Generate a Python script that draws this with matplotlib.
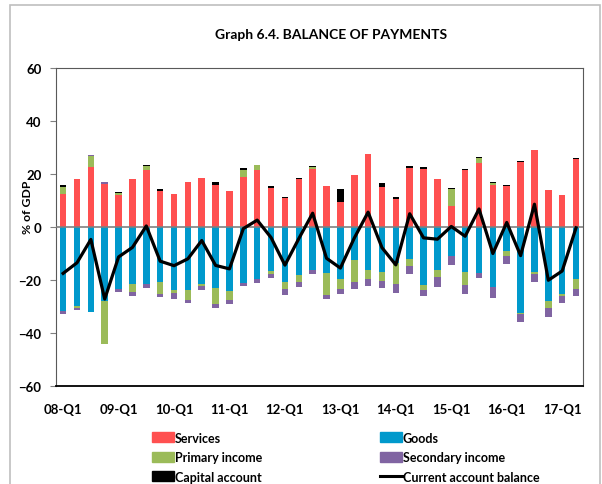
import numpy as np
import matplotlib
matplotlib.use('Agg')
import matplotlib.pyplot as plt
from matplotlib.patches import Patch, Rectangle
from matplotlib.lines import Line2D

plt.rcParams['font.family'] = ['Lato', 'DejaVu Sans']
plt.rcParams['font.weight'] = 'bold'

# quarters 08-Q1 .. 17-Q2
quarters = [f'{y:02d}-Q{q}' for y in range(8, 18) for q in range(1, 5)][:38]
tick_labels = ['08-Q1', '09-Q1', '10-Q1', '11-Q1', '12-Q1', '13-Q1', '14-Q1', '15-Q1', '16-Q1', '17-Q1']

services = [12.3, 18.0, 22.7, 16.3, 12.0, 18.2, 21.4, 13.4, 12.3, 16.8,
            18.4, 15.7, 13.4, 18.7, 21.6, 14.9, 11.0, 18.2, 21.8, 15.3,
            9.6, 19.7, 27.7, 15.2, 10.4, 22.4, 21.9, 18.0, 7.8, 21.6,
            24.1, 15.8, 15.6, 24.7, 29.1, 13.9, 12.0, 25.7]
goods = [-31.8, -29.9, -32.0, -27.8, -23.4, -21.4, -21.5, -20.9, -23.8, -23.7,
         -21.4, -23.2, -24.2, -21.1, -19.6, -16.6, -20.8, -18.2, -16.2, -17.5,
         -19.7, -12.4, -16.2, -17.0, -13.7, -12.0, -21.9, -16.3, -11.0, -16.8,
         -17.2, -22.5, -9.1, -32.4, -16.8, -28.1, -25.4, -19.7]
primary = [2.9, -0.6, 4.1, -16.2, 0.8, -3.0, 1.8, -4.2, -1.0, -3.9,
           -0.9, -6.0, -3.4, 2.7, 1.7, -1.0, -2.6, -2.4, 0.9, -8.1,
           -3.7, -8.4, -3.3, -3.5, -7.7, -2.6, -1.8, -2.7, 6.5, -5.1,
           2.0, 0.8, -1.8, -0.6, -1.0, -2.3, -0.8, -3.6]
secondary = [-1.0, -1.0, 0.5, 0.5, -1.0, -1.5, -1.5, -1.5, -2.2, -0.9,
             -1.4, -1.3, -1.5, -1.1, -1.4, -1.5, -2.2, -1.9, -1.5, -1.4,
             -1.9, -2.5, -2.7, -2.5, -3.4, -3.0, -2.4, -3.5, -3.2, -3.3,
             -2.2, -4.2, -3.2, -2.7, -2.8, -3.7, -2.5, -2.9]
capital = [0.5, 0.2, 0.0, 0.0, 0.5, 0.0, 0.2, 0.8, 0.0, 0.0,
           0.0, 1.1, 0.0, 0.8, 0.2, 0.5, 0.2, 0.2, 0.3, 0.0,
           4.7, 0.0, 0.0, 1.3, 0.9, 0.5, 0.9, 0.2, 0.3, 0.3,
           0.2, 0.2, 0.3, 0.2, 0.0, 0.0, 0.0, 0.2]
current_account = [-17.5, -13.5, -4.7, -27.2, -11.3, -7.7, 0.4, -12.9, -14.6, -12.0,
                   -5.1, -14.5, -15.8, -0.6, 2.6, -4.0, -14.4, -4.4, 5.2, -11.8,
                   -15.5, -4.2, 5.6, -7.8, -14.3, 5.0, -4.1, -4.6, 0.2, -3.5,
                   6.8, -10.0, 1.7, -10.8, 8.6, -20.1, -16.6, -0.3]

series = [('Services', services, '#FF5050'),
          ('Goods', goods, '#0099CC'),
          ('Primary income', primary, '#9BBB59'),
          ('Secondary income', secondary, '#8064A2'),
          ('Capital account', capital, '#000000')]

fig = plt.figure(figsize=(6.02, 4.85), dpi=100)
ax = fig.add_axes([0.0922, 0.2021, 0.8762, 0.6556])

x = np.arange(len(quarters))
pos_base = np.zeros(len(x))
neg_base = np.zeros(len(x))
for name, vals, col in series:
    v = np.array(vals)
    base = np.where(v >= 0, pos_base, neg_base)
    ax.bar(x, v, 0.47, bottom=base, color=col, linewidth=0, zorder=2)
    pos_base = pos_base + np.where(v >= 0, v, 0)
    neg_base = neg_base + np.where(v < 0, v, 0)

ax.axhline(0, color='#808080', lw=1.2, zorder=3)
ax.plot(x, current_account, color='black', lw=2.3, zorder=4)

ax.set_xlim(-0.55, 37.5)
ax.set_ylim(-60, 60)
ax.set_yticks(range(-60, 61, 20))
ax.set_xticks(x[::4])
ax.set_xticklabels(tick_labels)
ax.tick_params(axis='x', length=0, pad=12, labelsize=9.5)
ax.tick_params(axis='y', length=4, direction='out', color='#808080', pad=6, labelsize=9.5)
for s in ['left', 'top', 'right']:
    ax.spines[s].set_color('#595959')
ax.spines['bottom'].set_color('black')
ax.spines['bottom'].set_linewidth(1.3)

fig.text(0.045, 0.573, '% of GDP', rotation=90, ha='center', va='center',
         fontsize=8.8, fontweight='bold')
fig.text(0.550, 0.928, 'Graph 6.4. BALANCE OF PAYMENTS', ha='center', va='center',
         fontsize=10, fontweight='bold')

# outer frame
fig.patches.append(Rectangle((0.0166, -0.05), 0.98, 1.0376, transform=fig.transFigure,
                             fill=False, edgecolor='#BFBFBF', lw=1.2))

h1 = [Patch(color='#FF5050'), Patch(color='#9BBB59'), Patch(color='#000000')]
l1 = ['Services', 'Primary income', 'Capital account']
h2 = [Patch(color='#0099CC'), Patch(color='#8064A2'), Line2D([], [], color='black', lw=2.2)]
l2 = ['Goods', 'Secondary income', 'Current account balance']
for h, l, xx in [(h1, l1, 0.2525), (h2, l2, 0.631)]:
    fig.legend(h, l, loc='upper left', bbox_to_anchor=(xx, 0.108), frameon=False,
               fontsize=9, handlelength=1.75, handleheight=0.8, handletextpad=0.1,
               labelspacing=0.6, borderpad=0, borderaxespad=0)

fig.savefig('out.png', dpi=100)
